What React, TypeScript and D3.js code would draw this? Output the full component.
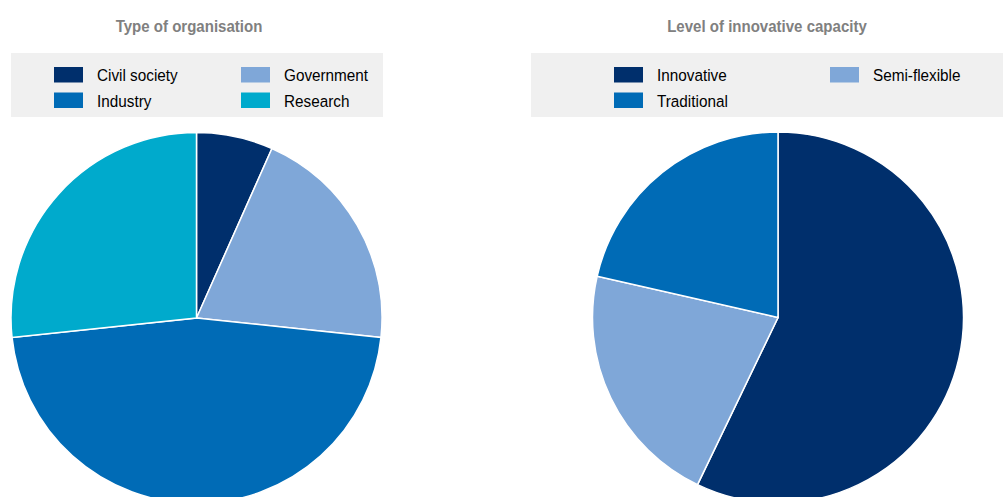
import React from "react";
import * as d3 from "d3";

const orgCategories = ["Civil society", "Government", "Industry", "Research"];
const orgValues = [1, 3, 7, 4];
const orgColors = ["#002F6C", "#7FA7D8", "#006BB6", "#00AACC"];

const capCategories = ["Innovative", "Semi-flexible", "Traditional"];
const capValues = [8, 3, 3];
const capColors = ["#002F6C", "#7FA7D8", "#006BB6"];

type PanelProps = {
  title: string;
  titleX: number;
  cats: string[];
  vals: number[];
  colors: string[];
  cx: number;
  cy: number;
  r: number;
  boxX: number;
  boxW: number;
  col1X: number;
  col2X: number;
};

function Panel(p: PanelProps) {
  const pie = d3.pie<number>().sort(null).value((d) => d);
  const arcs = pie(p.vals);
  const arc = d3.arc<d3.PieArcDatum<number>>().innerRadius(0).outerRadius(p.r);
  const font = "'Liberation Sans', Arial, sans-serif";
  return (
    <g>
      <text
        transform={`translate(${p.titleX},31.5) scale(0.94,1)`}
        textAnchor="middle"
        fontFamily={font}
        fontWeight="bold"
        fontSize={16}
        fill="#808080"
      >
        {p.title}
      </text>
      <rect x={p.boxX} y={53} width={p.boxW} height={64} fill="#F0F0F0" />
      {p.cats.map((c, i) => {
        const col = i % 2;
        const row = Math.floor(i / 2);
        const x = col === 0 ? p.col1X : p.col2X;
        const y = 67 + row * 25.5;
        return (
          <g key={c}>
            <rect x={x} y={y} width={29} height={15.5} fill={p.colors[i]} />
            <text
              transform={`translate(${x + 43},${y + 14}) scale(0.9,1)`}
              fontFamily={font}
              fontSize={17}
              fill="#000"
            >
              {c}
            </text>
          </g>
        );
      })}
      <g transform={`translate(${p.cx},${p.cy})`}>
        {arcs.map((a, i) => (
          <path key={i} d={arc(a) || ""} fill={p.colors[i]} stroke="#fff" strokeWidth={1.5} />
        ))}
      </g>
    </g>
  );
}

export default function App() {
  return (
    <svg width={1003} height={497} style={{ position: "absolute", left: 0, top: 0, background: "#fff" }}>
      <Panel
        title="Type of organisation"
        titleX={189}
        cats={orgCategories}
        vals={orgValues}
        colors={orgColors}
        cx={196.5}
        cy={318}
        r={185.5}
        boxX={11}
        boxW={372}
        col1X={54}
        col2X={241}
      />
      <Panel
        title="Level of innovative capacity"
        titleX={767}
        cats={capCategories}
        vals={capValues}
        colors={capColors}
        cx={778}
        cy={317.5}
        r={185.5}
        boxX={531}
        boxW={480}
        col1X={614}
        col2X={830}
      />
    </svg>
  );
}
